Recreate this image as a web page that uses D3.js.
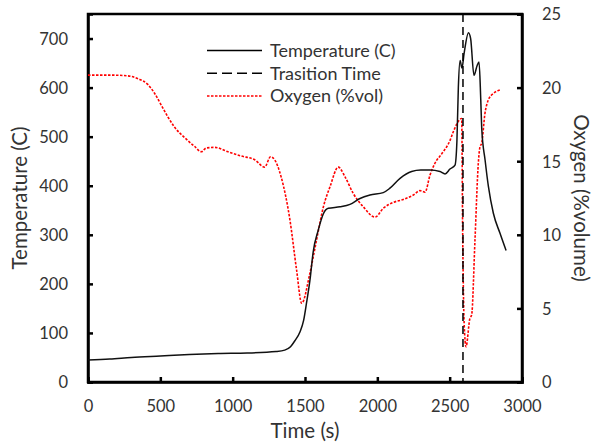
<!DOCTYPE html>
<html><head><meta charset="utf-8">
<script src="https://cdn.jsdelivr.net/npm/d3@7"></script>
<style>
body{margin:0;background:#fff;}
text{font-family:Lato,"Open Sans",sans-serif;fill:#333;}
</style></head>
<body>
<svg id="chart" width="594" height="447"></svg>
<script>
const tempTime = [0,150,300,500,700,900,1100,1300,1360,1400,1430,1465,1490,1510,1534,1557,1592,1627,1661,1742,1811,1880,1949,2041,2087,2157,2237,2300,2364,2433,2468,2502,2537,2550,2560,2572,2585,2600,2630,2645,2668,2690,2703,2715,2722,2745,2768,2802,2848,2890];
const tempVals = [45,47,50,53,56,58,59,62,65,72,84,102,125,160,207,266,310,343,354,357,362,374,381,386,395,415,429,432,432,429,424,434,442,490,600,655,640,670,712,700,625,645,652,575,515,452,398,344,303,268];
const oxyTime = [0,150,276,346,415,461,507,553,599,668,737,783,818,876,968,1060,1152,1221,1262,1290,1336,1396,1442,1477,1534,1580,1627,1673,1730,1776,1834,1903,1984,2041,2110,2179,2249,2295,2330,2364,2398,2445,2502,2525,2583,2590,2600,2613,2640,2652,2675,2698,2710,2721,2744,2767,2802,2848];
const oxyVals = [20.85,20.85,20.8,20.6,20.2,19.6,18.8,18.0,17.3,16.6,16.0,15.64,15.9,15.94,15.64,15.35,15.1,14.6,15.3,15.1,13.9,11.0,7.6,5.35,7.4,9.65,11.9,13.27,14.6,13.95,12.8,11.9,11.2,11.8,12.2,12.4,12.7,13.0,12.9,14.06,14.86,15.5,16.4,17.0,17.9,10,4,2.4,4.33,4.55,9.65,14.86,16.0,16.2,18.25,19.16,19.6,19.84];
const transitionTime = 2592;
const xTicks = [0,500,1000,1500,2000,2500,3000];
const leftTicks = [0,100,200,300,400,500,600,700];
const rightTicks = [0,5,10,15,20,25];
const legendLabels = ["Temperature (C)","Trasition Time","Oxygen (%vol)"];

const svg = d3.select("#chart");
const m = {l:88, r:522, t:14, b:382};
const x = d3.scaleLinear().domain([0,3000]).range([m.l,m.r]);
const yL = d3.scaleLinear().domain([0,750]).range([m.b,m.t]);
const yR = d3.scaleLinear().domain([0,25]).range([m.b,m.t]);
const fs = 16.5, fsLeg = 18, fsTitle = 20.5;

svg.append("rect").attr("x",m.l).attr("y",m.t).attr("width",m.r-m.l).attr("height",m.b-m.t)
  .attr("fill","none").attr("stroke","#000").attr("stroke-width",2.5);

const ax = svg.append("g").attr("transform",`translate(0,${m.b})`)
  .call(d3.axisTop(x).tickValues(xTicks).tickSize(5).tickFormat(d3.format("d")));
ax.selectAll(".tick text").remove();
ax.selectAll(".tick").append("text").attr("y",30).attr("text-anchor","middle").attr("font-size",fs).text(d=>d);
const al = svg.append("g").attr("transform",`translate(${m.l},0)`)
  .call(d3.axisRight(yL).tickValues(leftTicks).tickSize(5).tickFormat(d3.format("d")));
al.selectAll(".tick text").remove();
al.selectAll(".tick").append("text").attr("x",-20).attr("dy","0.36em").attr("text-anchor","end").attr("font-size",fs).text(d=>d);
const ar = svg.append("g").attr("transform",`translate(${m.r},0)`)
  .call(d3.axisLeft(yR).tickValues(rightTicks).tickSize(5).tickFormat(d3.format("d")));
ar.selectAll(".tick text").remove();
ar.selectAll(".tick").append("text").attr("x",20).attr("dy","0.36em").attr("text-anchor","start").attr("font-size",fs).text(d=>d);
svg.selectAll(".domain").attr("stroke","#000").attr("stroke-width",2.5);
svg.selectAll(".tick line").attr("stroke","#000").attr("stroke-width",2.5);

const tempData = tempTime.map((t,i)=>[t,tempVals[i]]);
const oxyData = oxyTime.map((t,i)=>[t,oxyVals[i]]);
svg.append("path").datum(oxyData)
  .attr("d",d3.line().x(d=>x(d[0])).y(d=>yR(d[1])).curve(d3.curveMonotoneX))
  .attr("fill","none").attr("stroke","#ff0000").attr("stroke-width",1.6).attr("stroke-dasharray","2.5,1.5");
svg.append("path").datum(tempData)
  .attr("d",d3.line().x(d=>x(d[0])).y(d=>yL(d[1])).curve(d3.curveMonotoneX))
  .attr("fill","none").attr("stroke","#111").attr("stroke-width",1.5);
svg.append("line").attr("x1",x(transitionTime)).attr("x2",x(transitionTime))
  .attr("y1",m.t).attr("y2",m.b).attr("stroke","#000").attr("stroke-width",1.5).attr("stroke-dasharray","8,5");

const lg = [
  {y:50.5, dash:null, color:"#000"},
  {y:73.3, dash:"10,5", color:"#000"},
  {y:96, dash:"2.5,1.5", color:"#ff0000"}
];
lg.forEach((e,i)=>{
  svg.append("line").attr("x1",207).attr("x2",262).attr("y1",e.y).attr("y2",e.y)
    .attr("stroke",e.color).attr("stroke-width",1.5).attr("stroke-dasharray",e.dash);
  svg.append("text").attr("x",270).attr("y",e.y).attr("dy","0.36em").attr("font-size",fsLeg).text(legendLabels[i]);
});

svg.append("text").attr("x",(m.l+m.r)/2).attr("y",438).attr("text-anchor","middle").attr("font-size",fsTitle).text("Time (s)");
svg.append("text").attr("transform",`translate(27,${(m.t+m.b)/2}) rotate(-90)`).attr("text-anchor","middle").attr("font-size",fsTitle).text("Temperature (C)");
svg.append("text").attr("transform",`translate(574,${(m.t+m.b)/2}) rotate(90)`).attr("text-anchor","middle").attr("font-size",fsTitle).text("Oxygen (%volume)");
</script>
</body></html>
